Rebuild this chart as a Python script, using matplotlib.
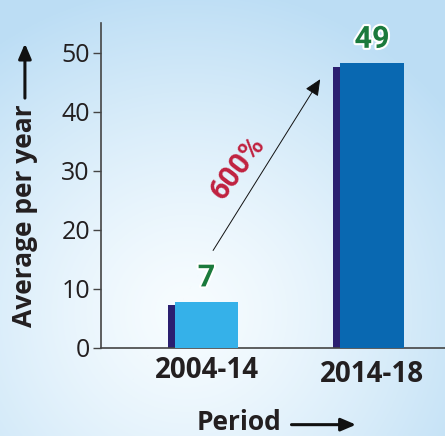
import matplotlib.pyplot as plt
import matplotlib.patheffects as pe
from matplotlib.patches import FancyArrowPatch
from matplotlib.transforms import ScaledTranslation
import numpy as np

# data
periods = ["2004-14", "2014-18"]
value_labels = ["7", "49"]
bar_heights = [7.8, 48.2]
growth_label = "600%"

front_colors = ["#35b1e9", "#0968b1"]
side_color = "#2b1f70"
txt_fam = ["Open Sans", "DejaVu Sans"]

fig = plt.figure(figsize=(4.45, 4.36), dpi=100)

# light blue background with a pale glow
bg = fig.add_axes([0, 0, 1, 1], zorder=-10)
yy, xx = np.mgrid[0:1:300j, 0:1:300j]
r = np.sqrt(((xx - 0.42) / 0.75) ** 2 + ((yy - 0.72) / 0.75) ** 2)
r = np.clip(r, 0, 1)
c0 = np.array([0.97, 0.99, 1.0])
c1 = np.array([0.74, 0.87, 0.96])
img = c0 + (c1 - c0) * r[..., None] ** 1.3
bg.imshow(img, extent=[0, 1, 0, 1], aspect="auto", origin="upper")
bg.axis("off")

ax = fig.add_axes([0.227, 0.202, 0.773, 0.745])
ax.patch.set_alpha(0)

x = np.arange(len(periods))
w = 0.385
sw = 0.042
ax.bar(x - w / 2 - sw / 2, [h - 0.6 for h in bar_heights], width=sw,
       color=side_color, zorder=2)
ax.bar(x, bar_heights, width=w, color=front_colors, zorder=3)

for xi, h, lab in zip(x, bar_heights, value_labels):
    ax.text(xi, h + 1.6, lab, ha="center", va="bottom", fontsize=22,
            fontweight="bold", color="#1b7a3c", family="Roboto",
            path_effects=[pe.withStroke(linewidth=3, foreground="white")], zorder=5)

# growth arrow
ax.annotate("", xy=(0.687, 45.5), xytext=(0.04, 16.5),
            arrowprops=dict(arrowstyle="-|>,head_length=1.0,head_width=0.45",
                            color="#111111", lw=0.7, shrinkA=0, shrinkB=0))
ax.text(0.19, 30.5, growth_label, rotation=53, ha="center", va="center",
        fontsize=21, fontweight="bold", color="#c0213f",
        family="Roboto", zorder=5)

ax.set_xlim(-0.637, 1.441)
ax.set_ylim(0, 55)
ax.set_yticks([0, 10, 20, 30, 40, 50])
ax.set_xticks(x)
ax.set_xticklabels(periods, fontsize=20, fontweight="bold", family="Open Sans",
                   color="#231f20")
ax.tick_params(axis="x", length=0, pad=6)
ax.tick_params(axis="y", length=6, width=1, color="#444444", labelsize=18,
               labelcolor="#231f20", pad=2)
for t in ax.get_yticklabels():
    t.set_family("Open Sans")
lab2 = ax.get_xticklabels()[1]
lab2.set_transform(lab2.get_transform()
                   + ScaledTranslation(0, -4 / 100, fig.dpi_scale_trans))
for s in ["top", "right"]:
    ax.spines[s].set_visible(False)
for s in ["left", "bottom"]:
    ax.spines[s].set_color("#444444")
    ax.spines[s].set_linewidth(1.2)

# axis titles with long arrows
arrow_kw = dict(arrowstyle="-|>,head_length=0.75,head_width=0.32",
                mutation_scale=12, color="#111111", lw=2.2,
                shrinkA=0, shrinkB=0, transform=fig.transFigure)
fig.text(0.056, 0.505, "Average per year", rotation=90, ha="center",
         va="center", fontsize=19, fontweight="bold", family=txt_fam,
         color="#231f20")
fig.add_artist(FancyArrowPatch((0.056, 0.775), (0.056, 0.9), **arrow_kw))
fig.text(0.538, 0.03, "Period", ha="center", va="center", fontsize=19,
         fontweight="bold", family=txt_fam, color="#231f20")
fig.add_artist(FancyArrowPatch((0.655, 0.026), (0.80, 0.026), **arrow_kw))

fig.savefig("out.png", dpi=100)
